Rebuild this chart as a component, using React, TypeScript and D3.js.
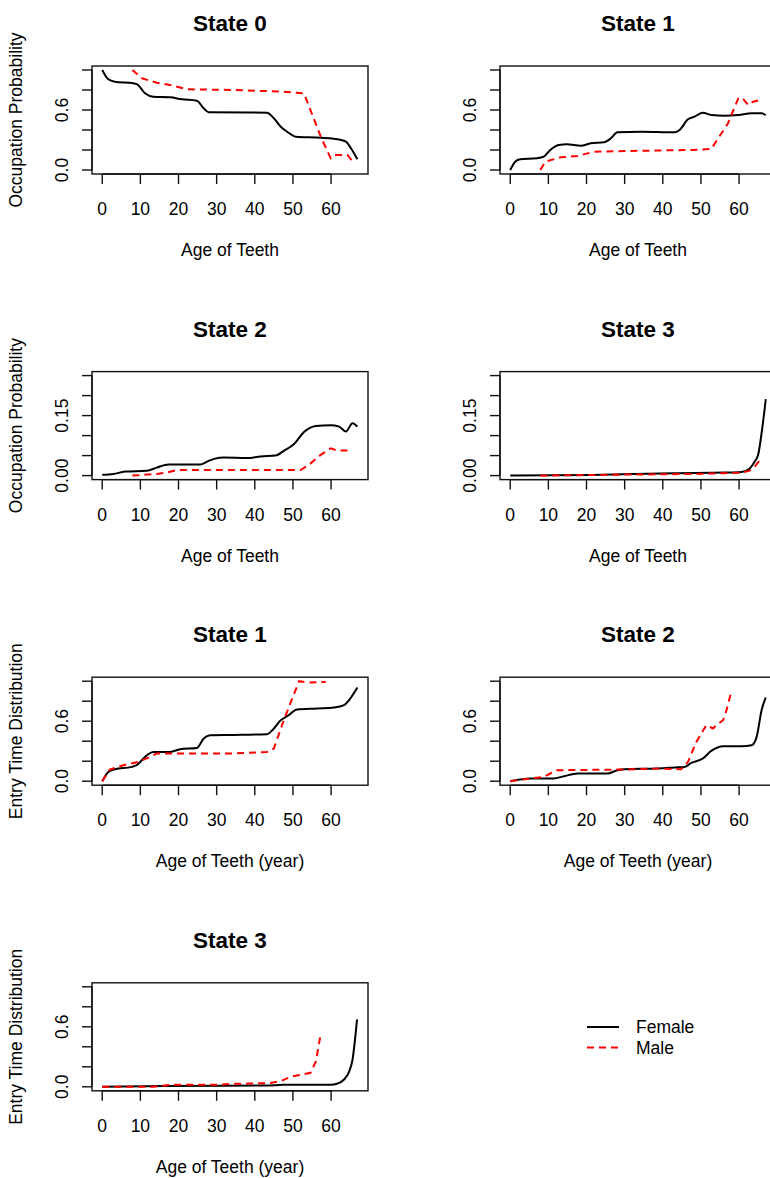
import React from "react";
import * as d3 from "d3";

// ages on the x axis
const ageTicks = [0, 10, 20, 30, 40, 50, 60];
const ageDomain = [0, 67];

// y axis ticks
const probTicks = [0, 0.2, 0.4, 0.6, 0.8, 1.0];
const probLabels = ["0.0", "0.6"];
const probLabelVals = [0, 0.6];
const smallTicks = [0, 0.05, 0.1, 0.15, 0.2, 0.25];
const smallLabels = ["0.00", "0.15"];
const smallLabelVals = [0, 0.15];

// occupation probability, state 0
const occ0Female = [[0, 1.0], [1.6, 0.907], [3.3, 0.883], [8.2, 0.867], [9.2, 0.857], [11.2, 0.767], [13.4, 0.733], [17.8, 0.727], [20.9, 0.707], [24.8, 0.693], [26.6, 0.617], [27.9, 0.577], [43.2, 0.573], [45.0, 0.517], [46.8, 0.433], [48.5, 0.383], [50.7, 0.333], [57.3, 0.323], [61.7, 0.307], [63.9, 0.283], [65.2, 0.217], [66.9, 0.107]];
const occ0Male = [[7.9, 1.0], [10.4, 0.917], [14.3, 0.873], [17.8, 0.85], [22.2, 0.807], [34.5, 0.8], [47.6, 0.783], [52.9, 0.767], [57.3, 0.333], [59.9, 0.117], [61.0, 0.15], [64.3, 0.15], [65.9, 0.073]];

// occupation probability, state 1
const occ1Female = [[0, 0], [1.3, 0.083], [2.6, 0.107], [7.0, 0.117], [8.8, 0.133], [10.5, 0.2], [12.7, 0.25], [14.9, 0.257], [18.5, 0.243], [21.1, 0.267], [24.6, 0.277], [26.4, 0.317], [28.1, 0.377], [34.3, 0.383], [43.1, 0.377], [44.4, 0.4], [46.6, 0.507], [48.3, 0.533], [50.5, 0.573], [52.7, 0.55], [56.2, 0.543], [59.8, 0.55], [63.3, 0.567], [65.9, 0.567], [67.0, 0.547]];
const occ1Male = [[7.9, 0], [9.2, 0.083], [13.2, 0.127], [17.6, 0.14], [22.0, 0.183], [29.9, 0.19], [47.5, 0.2], [52.7, 0.21], [57.1, 0.467], [59.8, 0.717], [60.8, 0.723], [62.4, 0.65], [63.7, 0.683], [66.3, 0.707]];

// occupation probability, state 2
const occ2Female = [[0, 0.002], [2.9, 0.004], [6.0, 0.01], [11.7, 0.012], [14.3, 0.02], [17.4, 0.0275], [25.7, 0.028], [27.5, 0.035], [29.6, 0.0425], [31.8, 0.045], [38.0, 0.044], [41.5, 0.048], [45.4, 0.05], [47.7, 0.0625], [50.3, 0.079], [52.9, 0.109], [56.0, 0.124], [59.9, 0.126], [62.1, 0.1225], [63.9, 0.11], [65.6, 0.131], [66.9, 0.1225]];
const occ2Male = [[7.9, 0], [14.3, 0.004], [16.9, 0.0075], [19.6, 0.014], [25.7, 0.014], [52.0, 0.014], [54.2, 0.027], [57.3, 0.052], [59.9, 0.068], [61.7, 0.0625], [64.7, 0.0625]];

// occupation probability, state 3
const occ3Female = [[0, 0], [21.1, 0.0017], [43.0, 0.006], [56.2, 0.0075], [60.6, 0.009], [62.8, 0.018], [64.1, 0.035], [65.0, 0.052], [65.9, 0.106], [67.0, 0.191]];
const occ3Male = [[7.9, 0], [29.9, 0.0025], [47.5, 0.004], [56.2, 0.006], [60.6, 0.0075], [62.8, 0.0125], [64.1, 0.0225], [65.5, 0.039]];

// entry time distribution, state 1
const ent1Female = [[0, 0], [1.6, 0.093], [3.3, 0.12], [7.7, 0.143], [9.0, 0.16], [11.7, 0.26], [13.4, 0.293], [17.8, 0.293], [20.4, 0.32], [24.8, 0.333], [26.6, 0.427], [28.3, 0.46], [34.5, 0.463], [43.2, 0.47], [44.6, 0.51], [46.8, 0.61], [48.5, 0.65], [51.1, 0.717], [56.4, 0.727], [60.8, 0.737], [63.4, 0.76], [64.7, 0.81], [66.9, 0.937]];
const ent1Male = [[0, 0], [2.0, 0.117], [5.5, 0.16], [9.5, 0.193], [12.5, 0.243], [14.3, 0.277], [21.3, 0.277], [34.5, 0.277], [43.2, 0.293], [45.0, 0.327], [47.6, 0.61], [51.6, 1.0], [53.8, 0.987], [58.6, 0.993]];

// entry time distribution, state 2
const ent2Female = [[0, 0], [5.3, 0.027], [11.4, 0.027], [14.1, 0.05], [17.6, 0.077], [25.5, 0.077], [28.1, 0.11], [29.9, 0.12], [38.7, 0.127], [43.1, 0.137], [45.7, 0.143], [47.5, 0.183], [50.5, 0.227], [52.7, 0.303], [55.8, 0.35], [60.6, 0.35], [63.3, 0.36], [64.6, 0.443], [65.9, 0.71], [67.0, 0.837]];
const ent2Male = [[0, 0], [5.3, 0.027], [8.8, 0.043], [10.5, 0.077], [12.3, 0.11], [29.9, 0.117], [38.7, 0.127], [44.8, 0.12], [46.6, 0.193], [48.8, 0.393], [51.4, 0.56], [53.2, 0.527], [54.0, 0.56], [55.8, 0.61], [56.7, 0.71], [58.0, 0.9]];

// entry time distribution, state 3
const ent3Female = [[0, 0], [16.9, 0.007], [43.2, 0.013], [47.6, 0.02], [59.9, 0.02], [61.7, 0.033], [63.4, 0.073], [64.7, 0.15], [65.6, 0.267], [66.8, 0.673]];
const ent3Male = [[0, 0], [13.4, 0], [17.8, 0.02], [30.1, 0.02], [34.5, 0.03], [44.1, 0.037], [46.8, 0.057], [49.4, 0.1], [52.9, 0.127], [54.6, 0.14], [56.0, 0.25], [57.3, 0.533]];

const panels = [
  { title: "State 0", row: 0, col: 0, ylab: "Occupation Probability", xlab: "Age of Teeth", ymax: 1, small: false, female: occ0Female, male: occ0Male },
  { title: "State 1", row: 0, col: 1, ylab: "", xlab: "Age of Teeth", ymax: 1, small: false, female: occ1Female, male: occ1Male },
  { title: "State 2", row: 1, col: 0, ylab: "Occupation Probability", xlab: "Age of Teeth", ymax: 0.25, small: true, female: occ2Female, male: occ2Male },
  { title: "State 3", row: 1, col: 1, ylab: "", xlab: "Age of Teeth", ymax: 0.25, small: true, female: occ3Female, male: occ3Male },
  { title: "State 1", row: 2, col: 0, ylab: "Entry Time Distribution", xlab: "Age of Teeth (year)", ymax: 1, small: false, female: ent1Female, male: ent1Male },
  { title: "State 2", row: 2, col: 1, ylab: "", xlab: "Age of Teeth (year)", ymax: 1, small: false, female: ent2Female, male: ent2Male },
  { title: "State 3", row: 3, col: 0, ylab: "Entry Time Distribution", xlab: "Age of Teeth (year)", ymax: 1, small: false, female: ent3Female, male: ent3Male },
];

const W = 770;
const H = 1178;
const FONT = "Liberation Sans, Arial, Helvetica, sans-serif";
const plotW = 276;
const plotH = 108;

const Panel = ({ p }: { p: any }) => {
  const left = 92 + p.col * 408;
  const top = 66 + p.row * 305.6;
  const bottom = top + plotH;

  const xPad = (ageDomain[1] - ageDomain[0]) * 0.04;
  const x = d3.scaleLinear().domain([ageDomain[0] - xPad, ageDomain[1] + xPad]).range([left, left + plotW]);
  const yPad = p.ymax * 0.04;
  const y = d3.scaleLinear().domain([-yPad, p.ymax + yPad]).range([bottom, top]);

  const yTicks = p.small ? smallTicks : probTicks;
  const yLabVals = p.small ? smallLabelVals : probLabelVals;
  const yLabs = p.small ? smallLabels : probLabels;

  const femaleLine = d3.line<number[]>().x(d => x(d[0])).y(d => y(d[1])).curve(d3.curveMonotoneX);
  const maleLine = d3.line<number[]>().x(d => x(d[0])).y(d => y(d[1]));

  const cx = left + plotW / 2;
  const cy = top + plotH / 2;

  return (
    <g>
      <text x={cx} y={top - 35} textAnchor="middle" fontSize={22.5} fontWeight="bold" fontFamily={FONT}>{p.title}</text>
      <rect x={left} y={top} width={plotW} height={plotH} fill="none" stroke="#111" strokeWidth={1.4} />
      {/* x axis */}
      <line x1={x(ageTicks[0])} x2={x(ageTicks[ageTicks.length - 1])} y1={bottom} y2={bottom} stroke="#111" strokeWidth={1.4} />
      {ageTicks.map(t => (
        <g key={"x" + t}>
          <line x1={x(t)} x2={x(t)} y1={bottom} y2={bottom + 10} stroke="#111" strokeWidth={1.4} />
          <text x={x(t)} y={bottom + 41} textAnchor="middle" fontSize={17.5} fontFamily={FONT}>{t}</text>
        </g>
      ))}
      <text x={cx} y={bottom + 82} textAnchor="middle" fontSize={17.5} fontFamily={FONT}>{p.xlab}</text>
      {/* y axis */}
      <line x1={left} x2={left} y1={y(yTicks[0])} y2={y(yTicks[yTicks.length - 1])} stroke="#111" strokeWidth={1.4} />
      {yTicks.map(t => (
        <line key={"y" + t} x1={left - 10} x2={left} y1={y(t)} y2={y(t)} stroke="#111" strokeWidth={1.4} />
      ))}
      {yLabVals.map((v, i) => (
        <text key={"yl" + i} transform={`translate(${left - 24},${y(v)}) rotate(-90)`} textAnchor="middle" fontSize={17.5} fontFamily={FONT}>{yLabs[i]}</text>
      ))}
      {p.ylab && (
        <text transform={`translate(${left - 70},${cy}) rotate(-90)`} textAnchor="middle" fontSize={17.5} fontFamily={FONT}>{p.ylab}</text>
      )}
      <path d={femaleLine(p.female) || ""} fill="none" stroke="#000" strokeWidth={2} />
      <path d={maleLine(p.male) || ""} fill="none" stroke="#ff0000" strokeWidth={2} strokeDasharray="7,5" />
    </g>
  );
};

const legendItems = ["Female", "Male"];

export default function App() {
  return (
    <svg width={W} height={H} style={{ position: "absolute", left: 0, top: 0, background: "#fff" }}>
      <rect x={0} y={0} width={W} height={H} fill="#fff" />
      {panels.map((p, i) => <Panel key={i} p={p} />)}
      <g>
        {legendItems.map((name, i) => (
          <g key={name}>
            <line x1={587} x2={619} y1={1027 + i * 20.6} y2={1027 + i * 20.6} stroke={i === 0 ? "#000" : "#ff0000"} strokeWidth={2} strokeDasharray={i === 0 ? undefined : "7,5"} />
            <text x={636} y={1033 + i * 20.8} fontSize={17.5} fontFamily={FONT}>{name}</text>
          </g>
        ))}
      </g>
    </svg>
  );
}
